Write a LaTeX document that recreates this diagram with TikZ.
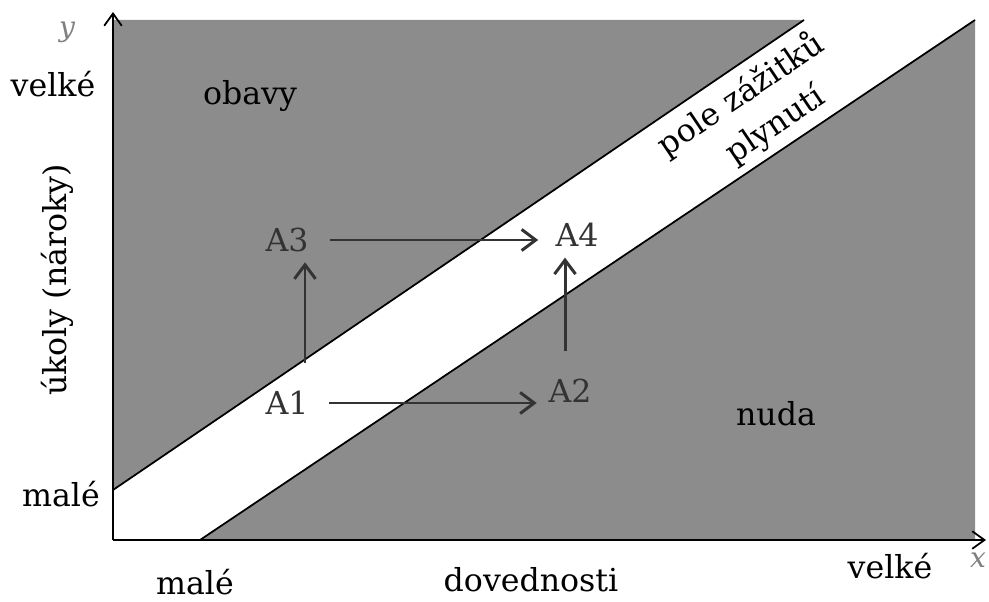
\documentclass[tikz,border=0pt]{standalone}
\usepackage{fontspec}
\setmainfont{DejaVu Serif}
\usetikzlibrary{arrows.meta}
\definecolor{regfill}{gray}{0.55}
\definecolor{ink}{gray}{0.2}
\begin{document}
\begin{tikzpicture}[x=0.02cm,y=-0.02cm,
  lbl/.style={font=\fontsize{18}{22}\selectfont, inner sep=0pt},
  pt/.style={lbl, text=ink},
  arr/.style={draw=ink, line width=1.7pt, -{Straight Barb[length=8pt,width=12pt]}},
  axis/.style={line width=1pt, -{Straight Barb[length=7pt,width=10pt]}},
  bound/.style={line width=1pt},
  hand/.style={text=gray, inner sep=0pt, font=\itshape\fontsize{16}{18}\selectfont}]
\useasboundingbox (0,0) rectangle (989,601);
% regions
\coordinate (O) at (113,540);
\coordinate (UL) at (113,490);
\coordinate (UT) at (804,20);
\coordinate (LB) at (200,540);
\coordinate (LT) at (975,20);
\fill[regfill] (UL) -- (113,20) -- (UT) -- cycle;
\fill[regfill] (LB) -- (LT) -- (975,540) -- cycle;
\draw[bound] (UL) -- (UT);
\draw[bound] (LB) -- (LT);
% axes
\coordinate (ytip) at (113,12);
\coordinate (xtip) at (986,540);
\draw[axis] (O) -- (ytip);
\draw[axis] (O) -- (xtip);
% axis labels
\node[lbl] (yhi) at (53,84) {velké};
\node[lbl] (ylo) at (61,494) {malé};
\node[lbl, rotate=90] (ylab) at (57,280) {úkoly (nároky)};
\node[lbl] (xlo) at (195,582) {malé};
\node[lbl] (xlab) at (531,580) {dovednosti};
\node[lbl] (xhi) at (890,566) {velké};
% region labels
\node[lbl] (obavy) at (250,96) {obavy};
\node[lbl] (nuda) at (776,414) {nuda};
\node[lbl, rotate=34, align=center, font=\fontsize{18}{25}\selectfont] (pole) at (753,113)
  {pole zážitků\\\hspace*{0.48cm}plynutí};
% handwritten marks
\node[hand] (hy) at (67,32) {y};
\node[hand] (hx) at (978,560) {x};
% points
\node[pt] (A1) at (287,403) {A1};
\node[pt] (A2) at (570,391) {A2};
\node[pt] (A3) at (287,240) {A3};
\node[pt] (A4) at (577,235) {A4};
\coordinate (a34) at (A3.east -| A4.west);
\coordinate (a12) at (A1.east -| A2.west);
\draw[arr] ([xshift=0.42cm]A3.east) -- ([xshift=-0.34cm]a34);
\draw[arr] ([xshift=0.4cm]A1.east) -- ([xshift=-0.23cm]a12);
\coordinate (s13) at ([xshift=0.36cm,yshift=0.56cm]A1.north);
\coordinate (e13) at (s13 |- A3.south);
\draw[arr] (s13) -- ([yshift=-0.2cm]e13);
\coordinate (s24) at ([xshift=-0.1cm,yshift=0.55cm]A2.north);
\coordinate (e24) at (s24 |- A4.south);
\draw[arr] (s24) -- ([yshift=-0.21cm]e24);
\end{tikzpicture}
\end{document}
